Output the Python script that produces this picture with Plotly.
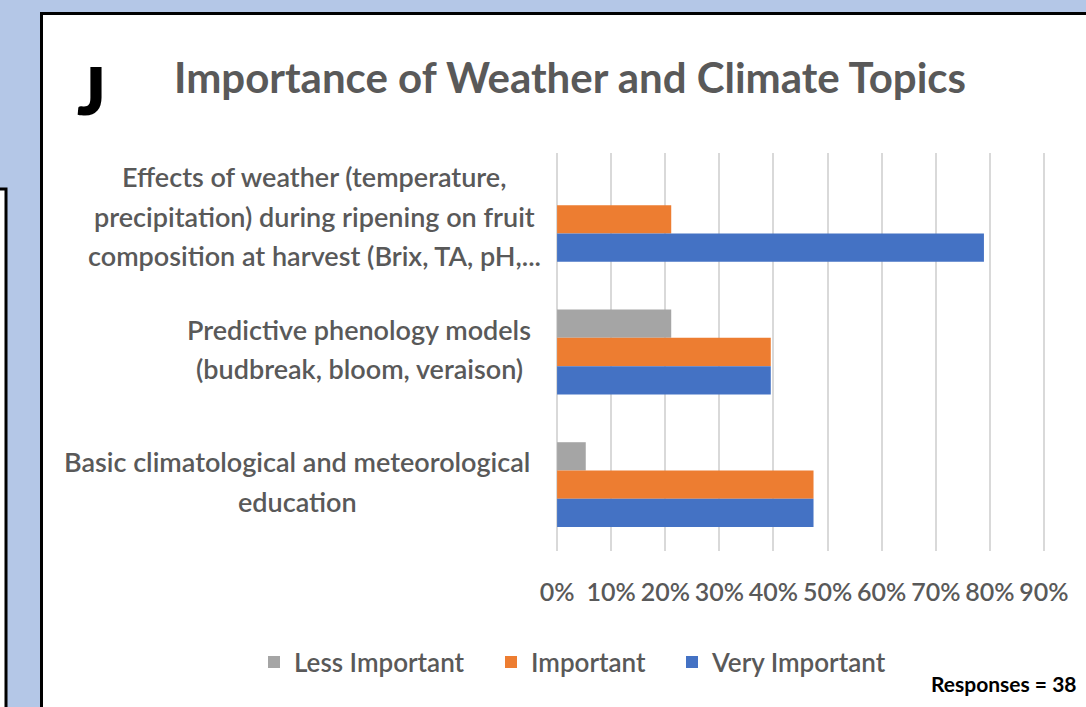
import plotly.graph_objects as go

# Survey topics (top to bottom), wrapped the way the axis shows them
categories = [
    "Effects of weather (temperature,<br>precipitation) during ripening on fruit<br>composition at harvest (Brix, TA, pH,...",
    "Predictive phenology models<br>(budbreak, bloom, veraison)",
    "Basic climatological and meteorological<br>education",
]

# Share of the 38 responses, in percent
less_important = [0.0, 21.1, 5.3]
important = [21.1, 39.5, 47.4]
very_important = [78.9, 39.5, 47.4]

series_names = ["Less Important", "Important", "Very Important"]
series_colors = ["#A5A5A5", "#ED7D31", "#4472C4"]

x_ticks = [0, 10, 20, 30, 40, 50, 60, 70, 80, 90]
x_tick_text = [f"{v}%" for v in x_ticks]

title_text = "Importance of Weather and Climate Topics"
panel_letter = "J"
responses_note = "Responses = 38"

W, H = 1086, 707
M_L, M_R, M_T, M_B = 556, 0, 153, 156
PX_PER_PCT = 5.41
X_START = -0.2  # small lead so the 0% gridline is drawn inside the plot area
PLOT_W = W - M_L - M_R
PLOT_H = H - M_T - M_B

GRAY_TEXT = "#595959"
FONT = "Lato"


def px_x(px):
    """Figure pixel x -> paper fraction."""
    return (px - M_L) / PLOT_W


def px_y(py):
    """Figure pixel y (from top) -> paper fraction."""
    return (H - M_B - py) / PLOT_H


legend_ids = ["legend", "legend2", "legend3"]

fig = go.Figure()
for name, vals, color, lg in zip(series_names, [less_important, important, very_important],
                                 series_colors, legend_ids):
    fig.add_trace(go.Bar(
        name=name, y=categories, x=vals, orientation="h",
        marker=dict(color=color, line=dict(width=0)),
        hoverinfo="x+name", legend=lg,
    ))

# Background cards: the chart card and the neighbouring panel's edge
shapes = [
    dict(type="rect", xref="paper", yref="paper",
         x0=px_x(41.5), x1=px_x(1110), y0=px_y(13.5), y1=px_y(730),
         fillcolor="white", line=dict(color="black", width=3), layer="below"),
    dict(type="rect", xref="paper", yref="paper",
         x0=px_x(-30), x1=px_x(6), y0=px_y(189), y1=px_y(730),
         fillcolor="white", line=dict(color="black", width=3), layer="below"),
]

annotations = []
# Category labels, one line per annotation so the line spacing can follow the axis text
label_centers_px = [314, 359, 297]
LINE_GAP = 39.5
for cat, cx in zip(categories, label_centers_px):
    lines = cat.split("<br>")
    n = len(lines)
    for i, line in enumerate(lines):
        annotations.append(dict(
            text=line, xref="paper", yref="y", x=px_x(cx), y=cat,
            xanchor="center", yanchor="middle", showarrow=False,
            yshift=-(i - (n - 1) / 2) * LINE_GAP + 3,
            font=dict(family=FONT, size=27, color=GRAY_TEXT, weight=600),
        ))

annotations += [
    dict(text=title_text, xref="paper", yref="paper", x=px_x(570), y=px_y(77),
         xanchor="center", yanchor="middle", showarrow=False,
         font=dict(family=FONT, size=42, color=GRAY_TEXT, weight=700)),
    dict(text=panel_letter, xref="paper", yref="paper", x=px_x(91), y=px_y(90),
         xanchor="center", yanchor="middle", showarrow=False,
         font=dict(family=FONT, size=66, color="black", weight=800)),
    dict(text=responses_note, xref="paper", yref="paper", x=px_x(929), y=px_y(683),
         xanchor="left", yanchor="middle", showarrow=False,
         font=dict(family=FONT, size=21, color="black", weight=700)),
]

legend_style = dict(
    orientation="h", xref="container", yref="container",
    y=1 - 662 / H, xanchor="left", yanchor="middle",
    font=dict(family=FONT, size=26, color=GRAY_TEXT, weight=600),
    bgcolor="rgba(0,0,0,0)",
)
legend_left_px = [254, 491, 672]

fig.update_layout(
    width=W, height=H,
    margin=dict(l=M_L, r=M_R, t=M_T, b=M_B, pad=0),
    paper_bgcolor="#B4C7E7",
    plot_bgcolor="rgba(0,0,0,0)",
    barmode="group", bargap=0.36, bargroupgap=0,
    shapes=shapes, annotations=annotations,
    showlegend=True,
    legend=dict(legend_style, x=legend_left_px[0] / W),
    legend2=dict(legend_style, x=legend_left_px[1] / W),
    legend3=dict(legend_style, x=legend_left_px[2] / W),
    xaxis=dict(
        range=[X_START, X_START + PLOT_W / PX_PER_PCT],
        tickmode="array", tickvals=x_ticks, ticktext=x_tick_text,
        showgrid=True, gridcolor="#D9D9D9", gridwidth=2,
        zeroline=False, showline=False, ticks="",
        ticklabelstandoff=24, fixedrange=True,
        tickfont=dict(family=FONT, size=25, color=GRAY_TEXT, weight=600),
    ),
    yaxis=dict(
        autorange="reversed", showticklabels=False, showgrid=False,
        zeroline=False, showline=False, ticks="", fixedrange=True,
    ),
)

fig.write_html("out.html")
